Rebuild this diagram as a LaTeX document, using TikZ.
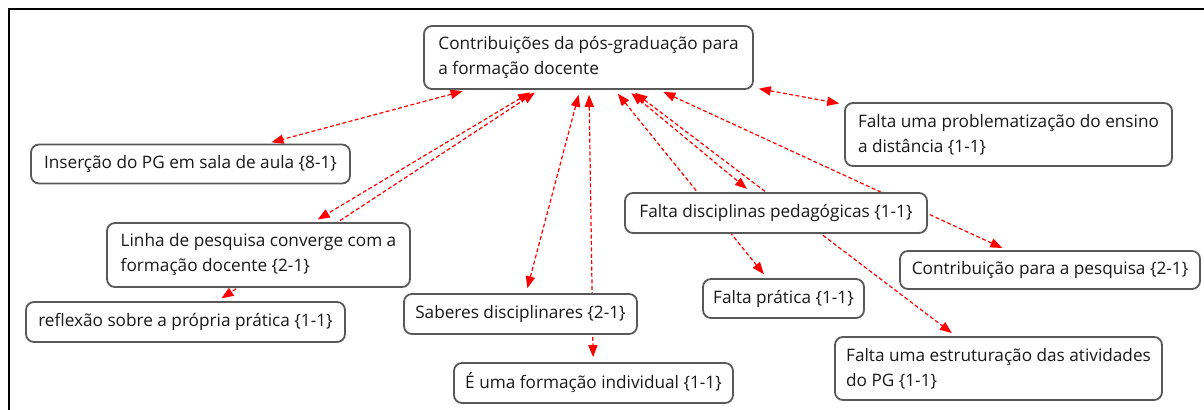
\documentclass[tikz,border=0pt]{standalone}
\usepackage{fontspec}
\setmainfont{Open Sans}
\usetikzlibrary{arrows.meta,backgrounds}

\begin{document}
\begin{tikzpicture}[x = 0.5pt, y = -0.5pt]
	\tikzstyle{every node} = [draw = black!65, line width = 0.9pt, rounded corners = 4pt, fill = white, align = left, inner sep = 0pt, text = black!90, font = \fontsize{8.6}{12.5}\selectfont]
	\tikzstyle{link} = [draw = red, dash pattern = on 2pt off 1.2pt, line width = 0.6pt, {Triangle[length = 6pt, width = 4.6pt]}-{Triangle[length = 6pt, width = 4.6pt]}, shorten < = 2.5pt, shorten > = 2.5pt]
	\useasboundingbox (0, 0) rectangle (1204, 410);
	\draw[line width = 0.8pt] (1204, 9) -- (9, 9) -- (9, 410);

\node[minimum width = 164.5pt, minimum height = 31.5pt] (0) at (588.5, 57.5) {Contribuições da pós-graduação para\\a formação docente};
\node[minimum width = 159.5pt, minimum height = 19.5pt] (1) at (190.5, 164) {Inserção do PG em sala de aula \{8-1\}};
\node[minimum width = 163.5pt, minimum height = 31.5pt] (2) at (1008.5, 134.5) {Falta uma problematização do ensino\\a distância \{1-1\}};
\node[minimum width = 151.5pt, minimum height = 32pt] (3) at (258.5, 255) {Linha de pesquisa converge com a\\formação docente \{2-1\}};
\node[minimum width = 159.5pt, minimum height = 20pt] (4) at (185.5, 322) {reflexão sobre a própria prática \{1-1\}};
\node[minimum width = 116.5pt, minimum height = 20pt] (5) at (520.5, 314) {Saberes disciplinares \{2-1\}};
\node[minimum width = 139.5pt, minimum height = 20pt] (6) at (593.5, 383) {É uma formação individual \{1-1\}};
\node[minimum width = 151pt, minimum height = 20pt] (7) at (776, 213) {Falta disciplinas pedagógicas \{1-1\}};
\node[minimum width = 80.5pt, minimum height = 19.5pt] (8) at (783.5, 298.5) {Falta prática \{1-1\}};
\node[minimum width = 150pt, minimum height = 19pt] (9) at (1050, 270) {Contribuição para a pesquisa \{2-1\}};
\node[minimum width = 163.5pt, minimum height = 31.5pt] (10) at (998.5, 368.5) {Falta uma estruturação das atividades\\do PG \{1-1\}};

	\begin{scope}[on background layer]
	\path[link] (0) -- (1);
	\path[link] (0) -- (2);
	\path[link] (0) -- (3);
	\path[link] (0) -- (4);
	\path[link] (0) -- (5);
	\path[link] (0) -- (6);
	\path[link] (0) -- (7);
	\path[link] (0) -- (8);
	\path[link] (0) -- (9);
	\path[link] (0) -- (10);
	\end{scope}
\end{tikzpicture}
\end{document}
